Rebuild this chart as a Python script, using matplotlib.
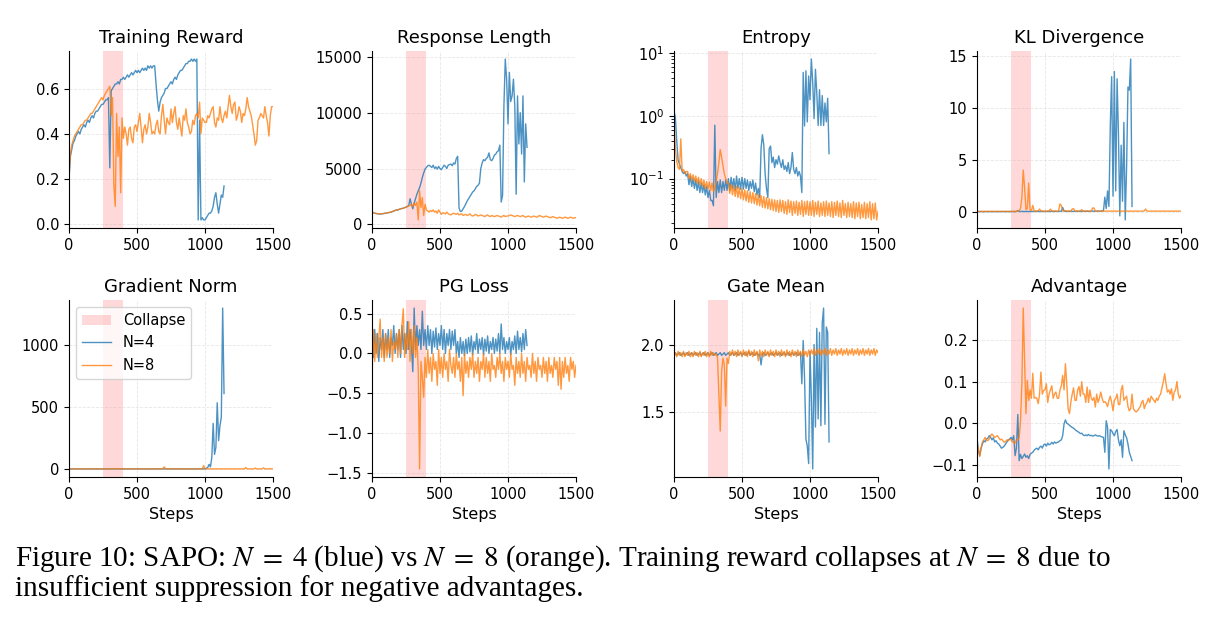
import numpy as np
import matplotlib
matplotlib.use("Agg")
import matplotlib.pyplot as plt
from matplotlib.ticker import MaxNLocator

# values, one value every 10 steps
# N=4 runs from step 0 to 1140, N=8 from step 0 to 1500

reward_n4 = [
    0.20, 0.30, 0.33, 0.36, 0.37, 0.39, 0.40, 0.41, 0.40, 0.42,
    0.43, 0.44, 0.43, 0.45, 0.46, 0.45, 0.47, 0.48, 0.47, 0.49,
    0.50, 0.50, 0.51, 0.52, 0.53, 0.53, 0.54, 0.55, 0.55, 0.56,
    0.25, 0.59, 0.60, 0.61, 0.62, 0.62, 0.63, 0.62, 0.64, 0.64,
    0.65, 0.64, 0.65, 0.66, 0.65, 0.66, 0.67, 0.66, 0.67, 0.68,
    0.67, 0.68, 0.67, 0.68, 0.69, 0.68, 0.69, 0.68, 0.70, 0.69,
    0.70, 0.69, 0.70, 0.70, 0.62, 0.55, 0.50, 0.54, 0.56, 0.57,
    0.58, 0.60, 0.60, 0.61, 0.62, 0.63, 0.62, 0.64, 0.65, 0.64,
    0.66, 0.67, 0.68, 0.68, 0.69, 0.70, 0.71, 0.71, 0.72, 0.72,
    0.73, 0.72, 0.73, 0.72, 0.73, 0.02, 0.46, 0.02, 0.03, 0.02,
    0.02, 0.03, 0.04, 0.05, 0.05, 0.06, 0.08, 0.12, 0.14, 0.09,
    0.05, 0.09, 0.13, 0.12, 0.17,
]
reward_n8 = [
    0.21, 0.31, 0.35, 0.37, 0.39, 0.40, 0.41, 0.42, 0.43, 0.44,
    0.44, 0.45, 0.46, 0.46, 0.47, 0.48, 0.49, 0.49, 0.50, 0.51,
    0.52, 0.53, 0.54, 0.55, 0.56, 0.55, 0.57, 0.58, 0.59, 0.60,
    0.61, 0.48, 0.56, 0.17, 0.08, 0.49, 0.30, 0.43, 0.14, 0.47,
    0.38, 0.43, 0.40, 0.35, 0.42, 0.43, 0.38, 0.36, 0.43, 0.44,
    0.41, 0.45, 0.49, 0.43, 0.36, 0.42, 0.44, 0.40, 0.43, 0.49,
    0.45, 0.40, 0.41, 0.40, 0.44, 0.46, 0.41, 0.40, 0.48, 0.53,
    0.46, 0.40, 0.47, 0.45, 0.44, 0.51, 0.45, 0.49, 0.52, 0.45,
    0.42, 0.47, 0.43, 0.39, 0.48, 0.46, 0.51, 0.45, 0.43, 0.40,
    0.41, 0.46, 0.44, 0.48, 0.49, 0.47, 0.54, 0.40, 0.47, 0.46,
    0.45, 0.45, 0.48, 0.47, 0.49, 0.51, 0.52, 0.45, 0.43, 0.47,
    0.46, 0.52, 0.47, 0.45, 0.48, 0.50, 0.47, 0.52, 0.57, 0.52,
    0.49, 0.53, 0.54, 0.46, 0.48, 0.52, 0.50, 0.45, 0.49, 0.48,
    0.51, 0.56, 0.52, 0.50, 0.48, 0.44, 0.40, 0.35, 0.37, 0.46,
    0.47, 0.49, 0.48, 0.47, 0.52, 0.48, 0.45, 0.39, 0.48, 0.52,
    0.52,
]

length_n4 = [
    1100, 1050, 1000, 980, 950, 940, 930, 950, 960, 980,
    1000, 1030, 1050, 1080, 1100, 1150, 1200, 1250, 1300, 1280,
    1350, 1400, 1420, 1450, 1500, 1550, 1600, 1700, 2300, 1800,
    1400, 1900, 2300, 2700, 3000, 3300, 3700, 4200, 4600, 4950,
    5100, 5250, 5300, 5200, 5100, 5300, 5000, 5150, 4950, 5200,
    5000, 4900, 5100, 5300, 5200, 5000, 5300, 5350, 5400, 5250,
    5500, 5400, 5900, 6100, 1450, 1150, 1200, 1400, 1600, 1850,
    2100, 2300, 2500, 2700, 2900, 3000, 3200, 3400, 3500, 3700,
    5000, 5500, 5800, 5700, 5900, 6000, 6400, 5800, 5700, 5900,
    6200, 6300, 6500, 6600, 7100, 2000, 2600, 10600, 14800, 13000,
    9000, 13600, 11000, 11500, 13000, 10600, 2700, 11500, 7200, 10000,
    6300, 11500, 3800, 9000, 6900,
]
length_n8 = [
    1100, 1050, 1000, 980, 950, 940, 930, 950, 960, 980,
    1000, 1030, 1050, 1080, 1100, 1150, 1200, 1250, 1280, 1300,
    1350, 1400, 1420, 1450, 1500, 1550, 1600, 1650, 1700, 1800,
    1600, 1900, 1700, 2000, 400, 3000, 1500, 2400, 800, 1800,
    1300, 1200, 1100, 1250, 1150, 1300, 1100, 1200, 1000, 1300,
    1100, 900, 1050, 1000, 950, 1100, 950, 900, 850, 950,
    1000, 950, 900, 1000, 850, 900, 950, 800, 850, 900,
    800, 850, 950, 800, 750, 800, 900, 850, 750, 800,
    850, 800, 750, 700, 800, 850, 750, 700, 800, 750,
    700, 750, 800, 750, 700, 650, 750, 800, 700, 750,
    750, 800, 850, 800, 750, 700, 750, 800, 750, 700,
    750, 800, 700, 650, 700, 750, 700, 650, 700, 750,
    700, 650, 700, 800, 750, 700, 650, 700, 750, 700,
    650, 600, 650, 700, 650, 600, 550, 600, 650, 600,
    550, 600, 650, 600, 550, 600, 650, 600, 550, 600,
    600,
]

entropy_n4 = [
    1.2, 0.95, 0.40, 0.20, 0.17, 0.15, 0.13, 0.12, 0.13, 0.11,
    0.12, 0.08, 0.11, 0.075, 0.10, 0.07, 0.095, 0.065, 0.09, 0.06,
    0.085, 0.06, 0.08, 0.055, 0.075, 0.05, 0.065, 0.045, 0.045, 0.037,
    0.71, 0.05, 0.09, 0.06, 0.095, 0.06, 0.09, 0.065, 0.095, 0.065,
    0.10, 0.065, 0.105, 0.07, 0.10, 0.065, 0.11, 0.07, 0.10, 0.068,
    0.105, 0.068, 0.10, 0.07, 0.095, 0.065, 0.09, 0.07, 0.095, 0.062,
    0.085, 0.055, 0.07, 0.05, 0.30, 0.50, 0.35, 0.12, 0.07, 0.05,
    0.30, 0.33, 0.18, 0.22, 0.15, 0.20, 0.17, 0.23, 0.18, 0.15,
    0.20, 0.14, 0.16, 0.13, 0.18, 0.12, 0.15, 0.26, 0.14, 0.12,
    0.15, 0.11, 0.13, 0.11, 0.06, 4.9, 0.69, 5.2, 0.8, 4.3,
    1.8, 8.0, 3.4, 0.9, 5.5, 2.3, 0.7, 2.6, 0.7, 2.1,
    0.7, 1.6, 0.8, 1.9, 0.25,
]
entropy_n8 = [
    0.9, 0.30, 0.19, 0.15, 0.14, 0.43, 0.13, 0.14, 0.12, 0.13,
    0.13, 0.10, 0.12, 0.095, 0.115, 0.09, 0.11, 0.085, 0.105, 0.08,
    0.10, 0.075, 0.095, 0.07, 0.09, 0.068, 0.088, 0.065, 0.085, 0.062,
    0.07, 0.09, 0.12, 0.18, 0.29, 0.22, 0.16, 0.12, 0.10, 0.085,
    0.085, 0.058, 0.08, 0.055, 0.078, 0.052, 0.075, 0.05, 0.072, 0.048,
    0.07, 0.046, 0.066, 0.044, 0.064, 0.042, 0.062, 0.041, 0.06, 0.04,
    0.058, 0.038, 0.056, 0.037, 0.054, 0.035, 0.052, 0.034, 0.05, 0.033,
    0.048, 0.032, 0.047, 0.031, 0.046, 0.030, 0.045, 0.029, 0.046, 0.030,
    0.045, 0.028, 0.043, 0.027, 0.046, 0.029, 0.044, 0.026, 0.043, 0.028,
    0.044, 0.026, 0.042, 0.027, 0.045, 0.025, 0.043, 0.027, 0.044, 0.026,
    0.043, 0.026, 0.045, 0.025, 0.042, 0.027, 0.044, 0.025, 0.041, 0.026,
    0.043, 0.025, 0.044, 0.026, 0.041, 0.025, 0.043, 0.024, 0.042, 0.026,
    0.044, 0.025, 0.041, 0.024, 0.045, 0.026, 0.040, 0.024, 0.042, 0.025,
    0.040, 0.024, 0.043, 0.023, 0.041, 0.025, 0.042, 0.023, 0.039, 0.024,
    0.042, 0.023, 0.040, 0.024, 0.043, 0.022, 0.040, 0.023, 0.041, 0.022,
    0.030,
]

kl_n4 = [
    0.00, 0.01, 0.00, 0.01, 0.00, 0.00, 0.01, 0.00, 0.01, 0.00,
    0.01, 0.00, 0.01, 0.00, 0.00, 0.01, 0.00, 0.01, 0.00, 0.01,
    0.01, 0.00, 0.01, 0.00, 0.01, 0.00, 0.02, 0.01, 0.00, 0.02,
    0.10, 0.02, 0.01, 0.03, 0.02, 0.01, 0.02, 0.03, 0.01, 0.02,
    0.02, 0.03, 0.01, 0.02, 0.03, 0.02, 0.01, 0.03, 0.02, 0.01,
    0.03, 0.02, 0.01, 0.03, 0.02, 0.03, 0.01, 0.02, 0.03, 0.02,
    0.03, 0.05, 0.02, 0.40, 0.05, 0.03, 0.02, 0.04, 0.02, 0.03,
    0.04, 0.02, 0.03, 0.05, 0.02, 0.03, 0.04, 0.02, 0.05, 0.03,
    0.04, 0.03, 0.05, 0.02, 0.04, 0.06, 0.03, 0.05, 0.04, 0.06,
    0.05, 0.04, 0.08, 0.10, 1.40, 0.30, 2.00, 0.50, 8.20, 13.0,
    1.50, 13.5, 2.00, 12.8, 7.50, -0.4, 6.40, 1.00, 8.60, -0.8,
    4.30, 12.0, 11.7, 14.7, 0.50,
]
kl_n8 = [
    0.02, 0.03, 0.02, 0.03, 0.02, 0.03, 0.02, 0.03, 0.02, 0.03,
    0.03, 0.02, 0.03, 0.02, 0.03, 0.02, 0.03, 0.02, 0.03, 0.02,
    0.02, 0.03, 0.02, 0.03, 0.02, 0.03, 0.02, 0.03, 0.02, 0.03,
    0.05, 0.10, 0.30, 1.40, 4.00, 2.30, 0.20, 0.30, 2.75, 0.20,
    0.10, 0.60, 0.05, 0.08, 0.04, 0.10, 0.25, 0.05, 0.08, 0.04,
    0.06, 0.04, 0.08, 0.05, 0.25, 0.06, 0.04, 0.08, 0.05, 0.04,
    0.06, 0.75, 0.60, 0.08, 0.05, 0.10, 0.06, 0.04, 0.08, 0.05,
    0.25, 0.30, 0.06, 0.04, 0.08, 0.05, 0.06, 0.20, 0.05, 0.04,
    0.06, 0.08, 0.04, 0.05, 0.06, 0.35, 0.35, 0.05, 0.04, 0.06,
    0.05, 0.04, 0.06, 0.05, 0.04, 0.06, 0.05, 0.04, 0.06, 0.05,
    0.04, 0.06, 0.05, 0.04, 0.06, 0.05, 0.04, 0.06, 0.05, 0.04,
    0.06, 0.05, 0.04, 0.06, 0.05, 0.04, 0.06, 0.05, 0.04, 0.06,
    0.05, 0.04, 0.06, 0.08, 0.25, 0.06, 0.05, 0.04, 0.06, 0.05,
    0.04, 0.06, 0.05, 0.04, 0.06, 0.05, 0.04, 0.06, 0.05, 0.04,
    0.06, 0.05, 0.04, 0.06, 0.05, 0.04, 0.06, 0.05, 0.04, 0.06,
    0.05,
]

grad_n4 = [
    5, 4, 3, 4, 3, 4, 3, 3, 4, 3,
    3, 4, 3, 3, 4, 3, 4, 3, 3, 4,
    3, 4, 3, 4, 3, 3, 4, 3, 4, 3,
    4, 3, 4, 3, 3, 4, 3, 4, 3, 4,
    3, 4, 3, 3, 4, 3, 4, 3, 4, 3,
    4, 3, 3, 4, 3, 4, 3, 4, 3, 3,
    4, 3, 4, 5, 3, 4, 3, 4, 3, 4,
    3, 4, 3, 3, 4, 3, 4, 3, 4, 3,
    4, 3, 4, 3, 4, 3, 3, 4, 3, 4,
    3, 4, 3, 4, 3, 4, 3, 4, 3, 4,
    3, 8, 15, 40, 20, 95, 370, 120, 175, 535,
    230, 350, 420, 1297, 610,
]
grad_n8 = [
    4, 3, 4, 3, 3, 4, 3, 4, 3, 3,
    4, 3, 3, 4, 3, 4, 3, 3, 4, 3,
    3, 4, 3, 4, 3, 3, 4, 3, 4, 3,
    4, 3, 6, 5, 4, 6, 3, 5, 4, 3,
    3, 4, 3, 3, 4, 3, 4, 3, 4, 3,
    4, 3, 3, 4, 3, 4, 3, 4, 3, 3,
    4, 3, 4, 3, 3, 4, 3, 4, 3, 4,
    20, 4, 3, 3, 4, 3, 4, 3, 4, 3,
    4, 3, 4, 3, 4, 3, 3, 4, 3, 4,
    3, 4, 3, 4, 3, 4, 3, 4, 3, 30,
    4, 3, 4, 3, 4, 3, 4, 3, 4, 3,
    4, 3, 4, 3, 4, 3, 4, 3, 4, 3,
    4, 3, 4, 3, 4, 3, 4, 3, 4, 3,
    15, 3, 4, 3, 4, 3, 4, 10, 4, 3,
    4, 3, 4, 12, 4, 3, 4, 3, 6, 3,
    4,
]

pg_n4 = [
    0.45, -0.05, 0.30, 0.00, 0.25, -0.10, 0.20, 0.05, 0.30, -0.05,
    0.25, 0.05, 0.30, -0.05, 0.20, 0.10, 0.35, 0.00, 0.25, 0.05,
    0.30, -0.05, 0.35, 0.05, 0.25, 0.00, 0.40, 0.05, 0.30, 0.10,
    -0.23, 0.57, 0.05, 0.35, 0.10, 0.30, 0.05, 0.53, 0.10, 0.30,
    0.05, 0.35, 0.10, 0.30, 0.00, 0.28, 0.08, 0.32, 0.05, 0.25,
    0.10, 0.35, 0.05, 0.30, 0.00, 0.25, 0.10, 0.30, 0.05, 0.28,
    0.10, 0.30, 0.00, 0.15, -0.05, 0.20, 0.00, 0.15, -0.03, 0.18,
    0.00, 0.20, 0.02, 0.22, -0.02, 0.15, 0.05, 0.25, 0.00, 0.18,
    0.05, 0.20, -0.02, 0.18, 0.03, 0.22, 0.00, 0.15, 0.05, 0.20,
    0.00, 0.18, 0.03, 0.25, 0.00, 0.37, 0.05, 0.20, 0.00, 0.15,
    0.05, 0.20, -0.02, 0.15, 0.05, 0.22, 0.00, 0.28, 0.05, 0.20,
    0.02, 0.25, 0.05, 0.30, 0.10,
]
pg_n8 = [
    -0.30, 0.30, -0.10, 0.25, -0.05, 0.20, 0.43, -0.05, 0.20, -0.10,
    0.25, -0.05, 0.20, 0.00, 0.30, -0.10, 0.15, 0.05, 0.25, -0.05,
    0.30, 0.00, 0.35, 0.56, -0.05, 0.25, 0.05, 0.40, -0.10, 0.30,
    0.00, 0.35, -0.05, 0.20, -0.20, -1.45, -0.10, -0.30, -0.55, -0.05,
    -0.30, 0.05, -0.25, -0.05, -0.35, 0.00, -0.20, -0.10, -0.40, 0.05,
    -0.25, -0.05, -0.30, 0.00, -0.20, -0.10, -0.35, 0.05, -0.15, -0.25,
    -0.05, -0.30, 0.00, -0.20, -0.10, -0.35, -0.05, -0.53, 0.00, -0.25,
    -0.10, -0.30, -0.05, -0.20, 0.00, -0.30, -0.10, -0.25, -0.05, -0.35,
    -0.10, -0.20, 0.00, -0.30, -0.05, -0.25, -0.10, -0.35, 0.00, -0.20,
    -0.15, -0.30, -0.05, -0.20, 0.00, -0.25, -0.10, -0.35, -0.05, -0.20,
    -0.10, -0.30, 0.00, -0.20, -0.15, -0.40, -0.05, -0.25, -0.10, -0.30,
    0.00, -0.25, -0.10, -0.35, -0.05, -0.20, -0.15, -0.30, 0.00, -0.25,
    -0.10, -0.35, -0.05, -0.20, -0.15, -0.30, -0.05, -0.25, -0.10, -0.35,
    -0.05, -0.25, -0.15, -0.30, -0.05, -0.20, -0.10, -0.40, -0.05, -0.45,
    -0.10, -0.30, -0.05, -0.25, -0.15, -0.35, -0.05, -0.20, -0.10, -0.30,
    -0.15,
]

gate_n4 = [
    1.93, 1.94, 1.92, 1.93, 1.94, 1.92, 1.93, 1.94, 1.92, 1.93,
    1.94, 1.92, 1.93, 1.94, 1.92, 1.93, 1.94, 1.92, 1.93, 1.94,
    1.92, 1.93, 1.94, 1.92, 1.93, 1.94, 1.92, 1.93, 1.94, 1.92,
    1.93, 1.94, 1.92, 1.93, 1.94, 1.92, 1.93, 1.94, 1.92, 1.93,
    1.94, 1.92, 1.93, 1.94, 1.92, 1.93, 1.94, 1.92, 1.93, 1.94,
    1.92, 1.93, 1.94, 1.92, 1.93, 1.95, 1.92, 1.93, 1.94, 1.92,
    1.93, 1.94, 1.92, 1.93, 1.85, 1.93, 1.94, 1.92, 1.93, 1.94,
    1.92, 1.93, 1.94, 1.92, 1.93, 1.94, 1.92, 1.93, 1.94, 1.92,
    1.93, 1.94, 1.92, 1.93, 1.94, 1.92, 1.93, 1.94, 1.92, 1.93,
    1.94, 1.92, 1.93, 1.94, 1.71, 2.03, 1.75, 1.30, 1.25, 1.12,
    1.95, 1.60, 1.08, 2.00, 1.39, 2.12, 1.45, 2.09, 1.40, 2.16,
    2.27, 1.41, 2.13, 2.09, 1.28,
]
gate_n8 = [
    1.91, 1.94, 1.91, 1.95, 1.92, 1.94, 1.91, 1.95, 1.91, 1.94,
    1.92, 1.95, 1.91, 1.94, 1.91, 1.95, 1.92, 1.94, 1.91, 1.95,
    1.91, 1.94, 1.92, 1.95, 1.91, 1.94, 1.91, 1.95, 1.92, 1.94,
    1.92, 1.93, 1.90, 1.64, 1.36, 1.80, 1.90, 1.85, 1.545, 1.90,
    1.86, 1.95, 1.92, 1.96, 1.92, 1.95, 1.91, 1.96, 1.92, 1.95,
    1.91, 1.96, 1.92, 1.95, 1.91, 1.96, 1.92, 1.95, 1.91, 1.96,
    1.92, 1.95, 1.88, 1.96, 1.92, 1.95, 1.91, 1.96, 1.92, 1.95,
    1.91, 1.96, 1.92, 1.95, 1.91, 1.96, 1.92, 1.95, 1.91, 1.96,
    1.92, 1.95, 1.91, 1.96, 1.92, 1.95, 1.91, 1.96, 1.92, 1.95,
    1.91, 1.96, 1.92, 1.95, 1.91, 1.96, 1.92, 1.95, 1.91, 1.96,
    1.92, 1.96, 1.93, 1.97, 1.92, 1.96, 1.93, 1.97, 1.92, 1.96,
    1.93, 1.97, 1.92, 1.96, 1.93, 1.97, 1.92, 1.96, 1.93, 1.97,
    1.92, 1.96, 1.93, 1.97, 1.92, 1.96, 1.93, 1.97, 1.92, 1.96,
    1.93, 1.97, 1.92, 1.96, 1.93, 1.97, 1.92, 1.96, 1.93, 1.97,
    1.92, 1.96, 1.93, 1.97, 1.92, 1.96, 1.93, 1.97, 1.92, 1.96,
    1.94,
]

adv_n4 = [
    -0.035, -0.065, -0.078, -0.060, -0.050, -0.042, -0.045, -0.038, -0.036, -0.030,
    -0.034, -0.040, -0.035, -0.045, -0.042, -0.048, -0.050, -0.055, -0.060, -0.058,
    -0.055, -0.050, -0.045, -0.040, -0.038, -0.034, -0.040, -0.030, -0.078, -0.060,
    0.021, -0.090, -0.075, -0.085, -0.080, -0.074, -0.082, -0.078, -0.085, -0.075,
    -0.072, -0.070, -0.065, -0.062, -0.060, -0.064, -0.058, -0.055, -0.060, -0.052,
    -0.050, -0.055, -0.048, -0.052, -0.050, -0.046, -0.050, -0.045, -0.048, -0.046,
    -0.045, -0.042, -0.040, -0.030, -0.002, 0.008, 0.000, -0.002, -0.005, -0.008,
    -0.010, -0.012, -0.015, -0.018, -0.020, -0.022, -0.025, -0.024, -0.028, -0.030,
    -0.028, -0.030, -0.027, -0.030, -0.029, -0.031, -0.030, -0.028, -0.030, -0.031,
    -0.030, -0.032, -0.033, -0.034, -0.070, 0.006, -0.010, -0.110, -0.015, -0.018,
    -0.025, -0.030, -0.020, -0.015, -0.040, -0.054, -0.040, -0.082, -0.018, -0.028,
    -0.035, -0.050, -0.070, -0.080, -0.090,
]
adv_n8 = [
    -0.050, -0.060, -0.080, -0.060, -0.045, -0.040, -0.034, -0.040, -0.042, -0.038,
    -0.030, -0.026, -0.030, -0.034, -0.032, -0.030, -0.035, -0.040, -0.038, -0.042,
    -0.046, -0.044, -0.040, -0.042, -0.038, -0.040, -0.045, -0.046, -0.048, -0.040,
    -0.040, -0.035, 0.006, 0.095, 0.277, 0.150, 0.023, 0.103, 0.055, 0.080,
    0.060, 0.120, 0.060, 0.062, 0.060, 0.047, 0.070, 0.123, 0.070, 0.079,
    0.080, 0.095, 0.050, 0.070, 0.080, 0.090, 0.060, 0.070, 0.075, 0.060,
    0.060, 0.080, 0.090, 0.115, 0.080, 0.143, 0.095, 0.035, 0.023, 0.050,
    0.070, 0.085, 0.055, 0.055, 0.080, 0.088, 0.065, 0.100, 0.070, 0.070,
    0.050, 0.087, 0.050, 0.080, 0.060, 0.055, 0.062, 0.039, 0.070, 0.050,
    0.060, 0.075, 0.060, 0.050, 0.052, 0.048, 0.040, 0.055, 0.065, 0.050,
    0.030, 0.055, 0.060, 0.070, 0.045, 0.045, 0.080, 0.091, 0.055, 0.060,
    0.065, 0.040, 0.030, 0.035, 0.070, 0.035, 0.030, 0.027, 0.030, 0.035,
    0.040, 0.050, 0.055, 0.035, 0.045, 0.050, 0.060, 0.050, 0.065, 0.060,
    0.055, 0.050, 0.060, 0.055, 0.065, 0.070, 0.085, 0.100, 0.119, 0.095,
    0.075, 0.080, 0.070, 0.083, 0.055, 0.075, 0.080, 0.100, 0.070, 0.060,
    0.067,
]

titles = ["Training Reward", "Response Length", "Entropy", "KL Divergence",
          "Gradient Norm", "PG Loss", "Gate Mean", "Advantage"]
series_n4 = [reward_n4, length_n4, entropy_n4, kl_n4, grad_n4, pg_n4, gate_n4, adv_n4]
series_n8 = [reward_n8, length_n8, entropy_n8, kl_n8, grad_n8, pg_n8, gate_n8, adv_n8]
collapse = (250, 400)
step_every = 10

BLUE = "#1f77b4"
ORANGE = "#ff7f0e"


def main():
    plt.rcParams["font.family"] = "DejaVu Sans"
    plt.rcParams["mathtext.fontset"] = "stix"
    fig = plt.figure(figsize=(12.21, 6.30), dpi=100)

    W, H = 1221.0, 630.0
    lefts = [69, 372, 674, 977]
    tops = [51, 300]
    aw, ah = 204, 177

    for i, title in enumerate(titles):
        r, c = divmod(i, 4)
        ax = fig.add_axes([lefts[c] / W, 1 - (tops[r] + ah) / H, aw / W, ah / H])
        y4 = np.array(series_n4[i], dtype=float)
        y8 = np.array(series_n8[i], dtype=float)
        x4 = np.arange(len(y4)) * step_every
        x8 = np.arange(len(y8)) * step_every
        ax.axvspan(collapse[0], collapse[1], color="red", alpha=0.15, lw=0, label="Collapse")
        ax.plot(x4, y4, color=BLUE, alpha=0.8, lw=1.0, label="N=4")
        ax.plot(x8, y8, color=ORANGE, alpha=0.8, lw=1.0, label="N=8")
        if title == "Entropy":
            ax.set_yscale("log")
        else:
            ax.yaxis.set_major_locator(MaxNLocator(nbins=5, steps=[1, 2, 2.5, 5, 10]))
        ax.set_xlim(0, 1500)
        ax.set_xticks([0, 500, 1000, 1500])
        ax.set_title(title, fontsize=13, pad=6)
        ax.grid(True, ls="--", lw=0.6, alpha=0.3)
        ax.spines["top"].set_visible(False)
        ax.spines["right"].set_visible(False)
        ax.tick_params(labelsize=10.5)
        if r == 1:
            ax.set_xlabel("Steps", fontsize=11.5)
        if title == "Gradient Norm":
            ax.legend(loc="upper left", fontsize=10.5)

    cap1 = ("Figure 10: SAPO: $N\\;=\\;4$ (blue) vs $N\\;=\\;8$ (orange). "
            "Training reward collapses at $N\\;=\\;8$ due to")
    cap2 = "insufficient suppression for negative advantages."
    fig.text(15 / W, 1 - 566 / H, cap1, family="Liberation Serif", fontsize=21, va="baseline")
    fig.text(15 / W, 1 - 596 / H, cap2, family="Liberation Serif", fontsize=21, va="baseline")

    fig.savefig("out.png", dpi=100)


if __name__ == "__main__":
    main()
